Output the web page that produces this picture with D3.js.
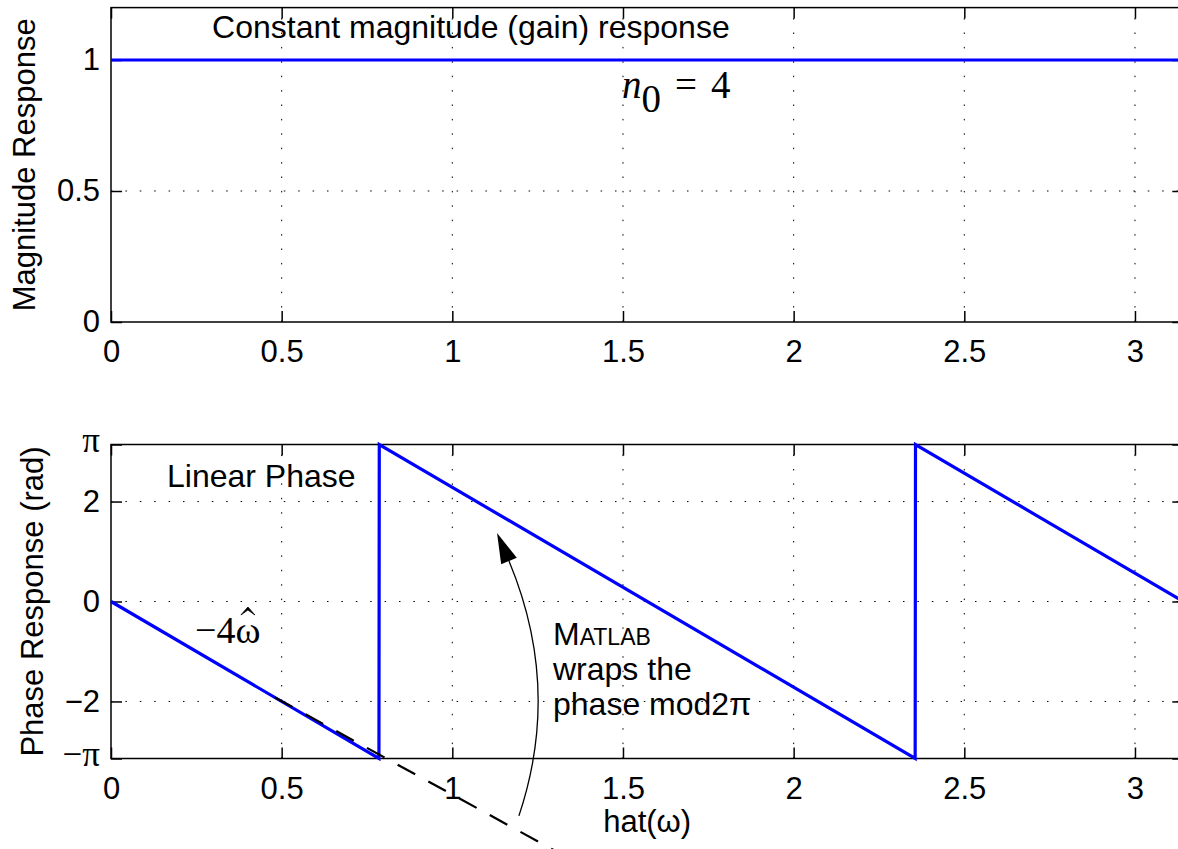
<!DOCTYPE html>
<html>
<head>
<meta charset="utf-8">
<script src="https://cdn.jsdelivr.net/npm/d3@7"></script>
<style>
body { margin: 0; background: #fff; }
svg { display: block; font-family: "Liberation Sans", Arial, Helvetica, sans-serif; }
text { fill: #000; }
</style>
</head>
<body>
<svg id="chart" width="1178" height="849"></svg>
<script>
// x axis (normalised frequency, 0..pi)
var xTicks = [0, 0.5, 1, 1.5, 2, 2.5, 3];
var xTickLabels = ["0", "0.5", "1", "1.5", "2", "2.5", "3"];

// magnitude panel
var magTicks = [0, 0.5, 1];
var magTickLabels = ["0", "0.5", "1"];
var magW = [0, 3.1416];
var magVal = [1, 1];

// phase panel (wrapped phase of -4w)
var phaseTicks = [-Math.PI, -2, 0, 2, Math.PI];
var phaseTickLabels = ["\u2212\u03c0", "\u22122", "0", "2", "\u03c0"];
var phaseW = [0, 0.785, 0.786, 2.356, 2.357, 3.1416];
var phaseVal = [0, -3.14, 3.14, -3.14, 3.14, 0];

// hand drawn annotations (data units of the phase panel)
var dashW = [0.48, 1.32];
var dashVal = [-1.92, -5.06];
var arrowW = [1.195, 1.321, 1.166, 1.131];     // start, control, end, tip
var arrowVal = [-4.29, -1.73, 0.81, 1.37];

var svg = d3.select("#chart");
var blue = "#0000ff";
var sans = '"Liberation Sans", Arial, Helvetica, sans-serif';
var serif = '"Liberation Serif", "Times New Roman", Times, serif';

var x = d3.scaleLinear().domain([0, Math.PI]).range([111, 1183.3]);
var yMag = d3.scaleLinear().domain([0, 1.2]).range([322, 7.6]);
var yPh = d3.scaleLinear().domain([-Math.PI, Math.PI]).range([758.5, 444.5]);

function drawPanel(y, yTicks, yLabels, yTitle, titleX){
	var g = svg.append("g");
	var x0 = x.range()[0], x1 = x.range()[1];
	var yb = y.range()[0], yt = y.range()[1];

	// dotted grid
	g.selectAll(".vgrid").data(xTicks.filter(function(d){ return d > 0; }))
		.enter().append("line")
		.attr("x1", function(d){ return x(d); })
		.attr("x2", function(d){ return x(d); })
		.attr("y1", yb).attr("y2", yt)
		.attr("stroke", "#000").attr("stroke-width", 1)
		.attr("stroke-dasharray", "1.5,12.9");
	g.selectAll(".hgrid").data(yTicks.slice(1))
		.enter().append("line")
		.attr("x1", x0).attr("x2", x1)
		.attr("y1", function(d){ return y(d); })
		.attr("y2", function(d){ return y(d); })
		.attr("stroke", "#000").attr("stroke-width", 1)
		.attr("stroke-dasharray", "1.5,12.9");

	// ticks on all four sides, pointing inward
	var bottom = g.append("g").attr("transform", "translate(0," + yb + ")")
		.call(d3.axisBottom(x).tickValues(xTicks).tickSize(-11).tickPadding(18)
			.tickFormat(function(d, i){ return xTickLabels[i]; }));
	var top = g.append("g").attr("transform", "translate(0," + yt + ")")
		.call(d3.axisTop(x).tickValues(xTicks).tickSize(-11).tickFormat(""));
	var left = g.append("g").attr("transform", "translate(" + x0 + ",0)")
		.call(d3.axisLeft(y).tickValues(yTicks).tickSize(-11).tickPadding(11)
			.tickFormat(function(d, i){ return yLabels[i]; }));
	var right = g.append("g").attr("transform", "translate(" + x1 + ",0)")
		.call(d3.axisRight(y).tickValues(yTicks).tickSize(-11).tickFormat(""));

	[bottom, top, left, right].forEach(function(a){
		a.select(".domain").remove();
		a.attr("font-size", 31).attr("font-family", sans);
		a.selectAll("line").attr("stroke", "#000").attr("stroke-width", 1.5);
		a.selectAll("text").attr("fill", "#000");
	});
	left.selectAll("text").filter(function(){ return this.textContent.indexOf("\u03c0") >= 0; })
		.style("font-family", serif)
		.style("font-size", "35px")
		.attr("dy", "0.2em");

	// box
	g.append("rect")
		.attr("x", x0).attr("y", yt)
		.attr("width", x1 - x0).attr("height", yb - yt)
		.attr("fill", "none").attr("stroke", "#000").attr("stroke-width", 1.5);

	// y title
	g.append("text")
		.attr("transform", "translate(" + titleX + "," + ((yb + yt) / 2) + ") rotate(-90)")
		.attr("text-anchor", "middle")
		.style("font-size", "31px")
		.text(yTitle);
	return g;
}

// ---- magnitude
var gMag = drawPanel(yMag, magTicks, magTickLabels, "Magnitude Response", 35);
var magLine = d3.line().x(function(d){ return x(d[0]); }).y(function(d){ return yMag(d[1]); });
gMag.append("path")
	.datum(d3.zip(magW, magVal))
	.attr("d", magLine)
	.attr("fill", "none").attr("stroke", blue).attr("stroke-width", 3.2);

gMag.append("text")
	.attr("x", x(0.296)).attr("y", yMag(1.084))
	.style("font-size", "32px")
	.text("Constant magnitude (gain) response");

var n0 = gMag.append("text")
	.attr("x", x(1.497)).attr("y", yMag(0.855))
	.style("font-family", serif)
	.style("font-size", "39px");
n0.append("tspan").style("font-style", "italic").text("n");
n0.append("tspan").attr("dy", 14).text("0");
n0.append("tspan").attr("dy", -14).attr("dx", 14).text("=");
n0.append("tspan").attr("dx", 14).text("4");

// ---- phase
var gPh = drawPanel(yPh, phaseTicks, phaseTickLabels, "Phase Response (rad)", 43);

var phLine = d3.line().x(function(d){ return x(d[0]); }).y(function(d){ return yPh(d[1]); });
gPh.append("path")
	.datum(d3.zip(phaseW, phaseVal))
	.attr("d", phLine)
	.attr("fill", "none").attr("stroke", blue).attr("stroke-width", 3.2)
	.attr("stroke-linejoin", "miter");

// dashed continuation of -4w (on top of the blue line)
gPh.append("path")
	.datum(d3.zip(dashW, dashVal))
	.attr("d", phLine)
	.attr("fill", "none").attr("stroke", "#000").attr("stroke-width", 2.2)
	.attr("stroke-dasharray", "20,15");

gPh.append("text")
	.attr("x", x(0.164)).attr("y", yPh(2.29))
	.style("font-size", "32px")
	.text("Linear Phase");

// -4 w-hat : text plus a drawn circumflex over the omega
var wt = gPh.append("text")
	.attr("x", x(0.246)).attr("y", yPh(-0.83))
	.style("font-family", serif).style("font-size", "38px")
	.text("\u22124\u03c9");
var wBox = wt.node().getExtentOfChar(2);
var hx = wBox.x + wBox.width / 2, hy = wBox.y - 2;
gPh.append("path")
	.attr("d", "M" + (hx - 7) + "," + (hy + 8) + "L" + hx + "," + hy + "L" + (hx + 7) + "," + (hy + 8)
		+ "L" + hx + "," + (hy + 3) + "Z")
	.attr("fill", "#000").attr("stroke", "#000").attr("stroke-width", 0.8)
	.attr("stroke-linejoin", "miter");

// MATLAB wraps the phase
var note = [
	{v: -0.87, parts: [["M", 32], ["ATLAB", 23]]},
	{v: -1.57, parts: [["wraps the", 32]]},
	{v: -2.27, parts: [["phase mod2", 32], ["\u03c0", 32]]}
];
note.forEach(function(line){
	var t = gPh.append("text").attr("x", x(1.295)).attr("y", yPh(line.v));
	line.parts.forEach(function(p){
		t.append("tspan").style("font-size", p[1] + "px").text(p[0]);
	});
});

// curved arrow
var pS = [x(arrowW[0]), yPh(arrowVal[0])];
var pC = [x(arrowW[1]), yPh(arrowVal[1])];
var pE = [x(arrowW[2]), yPh(arrowVal[2])];
var pT = [x(arrowW[3]), yPh(arrowVal[3])];
var ap = d3.path();
ap.moveTo(pS[0], pS[1]);
ap.quadraticCurveTo(pC[0], pC[1], pE[0], pE[1]);
gPh.append("path").attr("d", ap.toString())
	.attr("fill", "none").attr("stroke", "#000").attr("stroke-width", 1.3);
var dx = pT[0] - pE[0], dy = pT[1] - pE[1];
var len = Math.sqrt(dx * dx + dy * dy);
var nx = -dy / len * 8.5, ny = dx / len * 8.5;
gPh.append("polygon")
	.attr("points", [pT, [pE[0] + nx, pE[1] + ny], [pE[0] - nx, pE[1] - ny]]
		.map(function(p){ return p.join(","); }).join(" "))
	.attr("fill", "#000");

// x label
svg.append("text")
	.attr("x", (x.range()[0] + x.range()[1]) / 2).attr("y", 832)
	.attr("text-anchor", "middle")
	.style("font-size", "31px")
	.text("hat(\u03c9)");
</script>
</body>
</html>
